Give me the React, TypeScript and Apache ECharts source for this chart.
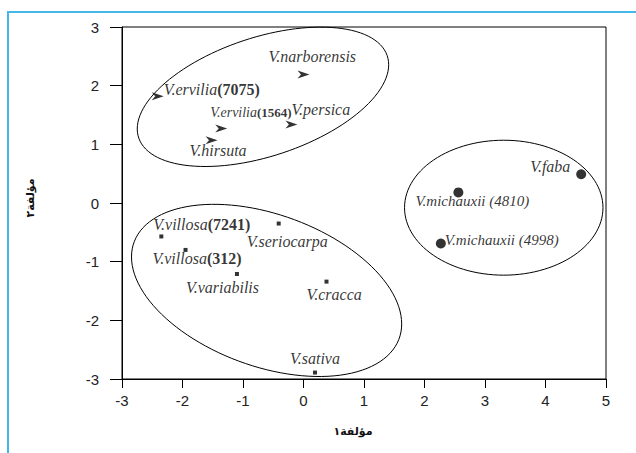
import React, { useEffect, useRef } from "react";
import * as echarts from "echarts";

// ---- data ----
const xTicks = [-3, -2, -1, 0, 1, 2, 3, 4, 5];
const yTicks = [-3, -2, -1, 0, 1, 2, 3];
const xTitle = "مؤلفة١";
const yTitle = "مؤلفة٢";

// group 1 (arrow markers)
const g1Names = ["V.narborensis", "V.ervilia", "V.ervilia", "V.persica", "V.hirsuta"];
const g1Codes = ["", "(7075)", "(1564)", "", ""];
const g1X = [0.0, -2.41, -1.36, -0.2, -1.52];
const g1Y = [2.19, 1.82, 1.27, 1.34, 1.07];

// group 2 (square markers)
const g2Names = ["V.villosa", "V.seriocarpa", "V.villosa", "V.variabilis", "V.cracca", "V.sativa"];
const g2Codes = ["(7241)", "", "(312)", "", "", ""];
const g2X = [-2.35, -0.41, -1.95, -1.1, 0.38, 0.19];
const g2Y = [-0.57, -0.35, -0.8, -1.21, -1.34, -2.89];

// group 3 (circle markers)
const g3Names = ["V.faba", "V.michauxii (4810)", "V.michauxii (4998)"];
const g3Codes = ["", "", ""];
const g3X = [4.59, 2.56, 2.27];
const g3Y = [0.49, 0.18, -0.69];

// group ellipses in data units: centre, semi-axes, rotation (deg)
const ellCx = [-0.67, -0.61, 3.31];
const ellCy = [1.81, -1.49, -0.08];
const ellA = [2.17, 2.34, 1.64];
const ellB = [1.01, 1.29, 1.15];
const ellAngle = [19, -21, 0];

// ---- label placement (pixels, left edge / vertical middle relative to marker) ----
const g1Off = [[-35, -18], [6, -7], [-11, -16], [0, -15], [-22, 10]];
const g2Off = [[-8, -12], [-32, 18], [-33, 9], [-51, 14], [-20, 13], [-25, -14]];
const g3Off = [[-51, -8], [-43, 9], [4, -3]];
// label text style keys (s = small, m = medium, l = large)
const g1Size = ["l", "l", "s", "l", "l"];
const g2Size = ["l", "l", "l", "l", "l", "l"];
const g3Size = ["l", "m", "m"];

const ARROW = "path://M0,0 L12,4 L0,8 L3.5,4 Z";

const RICH: any = {};
const SIZES: Record<string, number[]> = { s: [14, 13], m: [15, 15], l: [16, 16] };
Object.keys(SIZES).forEach((k) => {
  RICH["i" + k] = { fontFamily: "Liberation Serif", fontStyle: "italic", fontSize: SIZES[k][0], color: "#000" };
  RICH["b" + k] = { fontFamily: "Liberation Serif", fontWeight: "bold", fontSize: SIZES[k][1], color: "#000" };
});

function buildSeries(
  names: string[], codes: string[], xs: number[], ys: number[], offs: number[][],
  sizes: string[], symbol: string, size: any
) {
  return {
    type: "scatter",
    symbol,
    symbolSize: size,
    itemStyle: { color: "#000" },
    label: {
      show: true,
      position: "inside",
      align: "left",
      verticalAlign: "middle",
      formatter: (p: any) => {
        const i = p.dataIndex;
        const s = sizes[i];
        const c = codes[i];
        return `{i${s}|${names[i]}}` + (c ? `{b${s}|${c}}` : "");
      },
      rich: RICH,
    },
    data: xs.map((x, i) => ({
      value: [x, ys[i]],
      label: { offset: offs[i] },
    })),
    z: 3,
  };
}

export default function App() {
  const ref = useRef<HTMLDivElement>(null);
  useEffect(() => {
    const chart = echarts.init(ref.current!, undefined, { renderer: "svg" });
    const axisFont = { fontFamily: "Liberation Sans", fontSize: 15, color: "#222" };
    chart.setOption({
      animation: false,
      grid: {
        left: 122, top: 27, right: 30, bottom: 74,
        show: true, borderColor: "#000", borderWidth: 1,
      },
      xAxis: {
        type: "value", min: xTicks[0], max: xTicks[xTicks.length - 1], interval: 1,
        splitLine: { show: false },
        axisLine: { onZero: false, lineStyle: { color: "#000", width: 1 } },
        axisTick: { length: 9, lineStyle: { color: "#000" } },
        axisLabel: { ...axisFont, margin: 14 },
      },
      yAxis: {
        type: "value", min: yTicks[0], max: yTicks[yTicks.length - 1], interval: 1,
        splitLine: { show: false },
        axisLine: { onZero: false, lineStyle: { color: "#000", width: 1 } },
        axisTick: { length: 12, lineStyle: { color: "#000" } },
        axisLabel: { ...axisFont, margin: 23 },
      },
      graphic: [
        {
          type: "rect", silent: true,
          shape: { x: 8, y: 12, width: 700, height: 500 },
          style: { fill: "none", stroke: "#45b7e8", lineWidth: 2 },
        },
        {
          type: "text", x: 353, y: 431,
          style: {
            text: xTitle, fontFamily: "DejaVu Sans", fontWeight: "bold", fontSize: 11,
            fill: "#111", align: "center", verticalAlign: "middle",
          },
        },
        {
          type: "text", x: 30, y: 198, rotation: Math.PI / 2,
          style: {
            text: yTitle, fontFamily: "DejaVu Sans", fontWeight: "bold", fontSize: 11,
            fill: "#111", align: "center", verticalAlign: "middle",
          },
        },
      ],
      series: [
        {
          type: "custom",
          silent: true,
          data: ellCx.map((_, i) => [i]),
          encode: { x: 0 },
          renderItem: (_params: any, api: any) => {
            const i = api.value(0);
            const th = (ellAngle[i] * Math.PI) / 180;
            const pts: number[][] = [];
            for (let k = 0; k <= 120; k++) {
              const t = (2 * Math.PI * k) / 120;
              const dx = ellA[i] * Math.cos(t);
              const dy = ellB[i] * Math.sin(t);
              const x = ellCx[i] + dx * Math.cos(th) - dy * Math.sin(th);
              const y = ellCy[i] + dx * Math.sin(th) + dy * Math.cos(th);
              pts.push(api.coord([x, y]));
            }
            return {
              type: "polygon",
              shape: { points: pts },
              style: { fill: "none", stroke: "#000", lineWidth: 1 },
            };
          },
          z: 2,
        },
        buildSeries(g1Names, g1Codes, g1X, g1Y, g1Off, g1Size, ARROW, [12, 8]),
        buildSeries(g2Names, g2Codes, g2X, g2Y, g2Off, g2Size, "rect", 4),
        buildSeries(g3Names, g3Codes, g3X, g3Y, g3Off, g3Size, "circle", 10),
      ],
    });
    return () => chart.dispose();
  }, []);
  return (
    <div
      ref={ref}
      style={{ position: "absolute", left: 0, top: 0, width: 636, height: 453, background: "#fff" }}
    />
  );
}
